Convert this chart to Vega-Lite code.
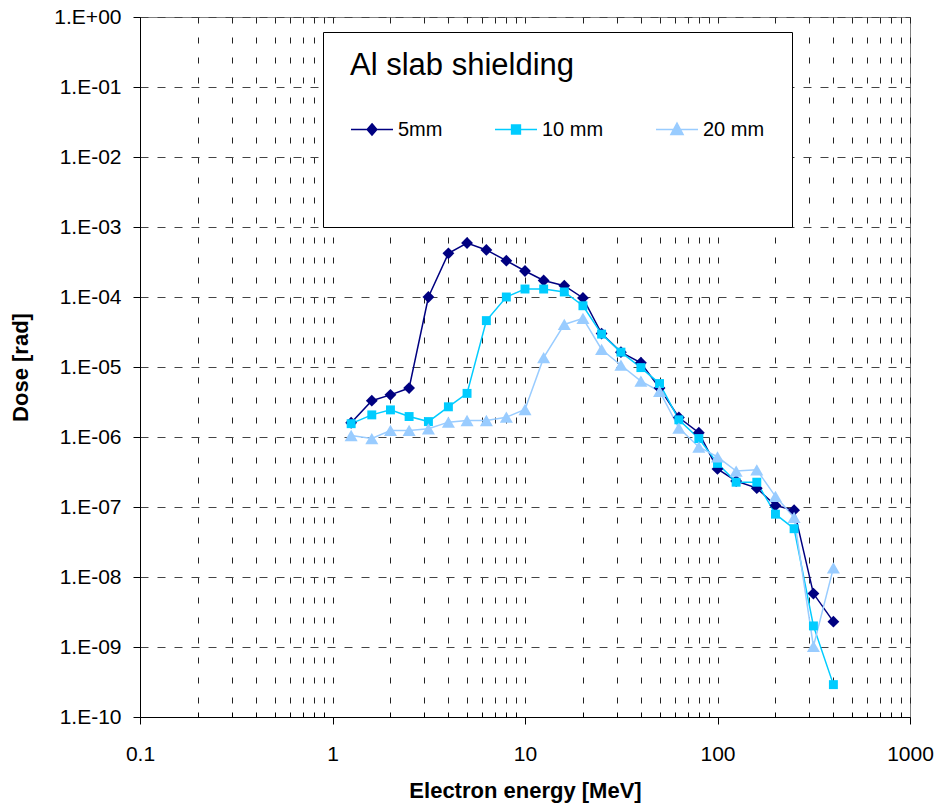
{
  "$schema": "https://vega.github.io/schema/vega-lite/v6.json",
  "width": 770,
  "height": 700,
  "autosize": {"type": "none"},
  "padding": {"left": 140, "top": 17, "right": 26, "bottom": 90},
  "background": "white",
  "config": {
    "view": {"stroke": "#808080", "strokeWidth": 1},
    "font": "Liberation Sans"
  },
  "data": {
    "values": [
      {"energy": 1.25, "dose": 1.6e-6, "series": "5mm"},
      {"energy": 1.6, "dose": 3.3e-6, "series": "5mm"},
      {"energy": 2, "dose": 4.0e-6, "series": "5mm"},
      {"energy": 2.5, "dose": 5.0e-6, "series": "5mm"},
      {"energy": 3.15, "dose": 1.0e-4, "series": "5mm"},
      {"energy": 4, "dose": 4.2e-4, "series": "5mm"},
      {"energy": 5, "dose": 5.9e-4, "series": "5mm"},
      {"energy": 6.3, "dose": 4.7e-4, "series": "5mm"},
      {"energy": 8, "dose": 3.3e-4, "series": "5mm"},
      {"energy": 10, "dose": 2.35e-4, "series": "5mm"},
      {"energy": 12.5, "dose": 1.72e-4, "series": "5mm"},
      {"energy": 16, "dose": 1.45e-4, "series": "5mm"},
      {"energy": 20, "dose": 9.7e-5, "series": "5mm"},
      {"energy": 25, "dose": 3.0e-5, "series": "5mm"},
      {"energy": 31.5, "dose": 1.63e-5, "series": "5mm"},
      {"energy": 40, "dose": 1.15e-5, "series": "5mm"},
      {"energy": 50, "dose": 5.0e-6, "series": "5mm"},
      {"energy": 63, "dose": 1.9e-6, "series": "5mm"},
      {"energy": 80, "dose": 1.15e-6, "series": "5mm"},
      {"energy": 100, "dose": 3.5e-7, "series": "5mm"},
      {"energy": 125, "dose": 2.35e-7, "series": "5mm"},
      {"energy": 160, "dose": 1.86e-7, "series": "5mm"},
      {"energy": 200, "dose": 1.05e-7, "series": "5mm"},
      {"energy": 250, "dose": 9.0e-8, "series": "5mm"},
      {"energy": 315, "dose": 5.8e-9, "series": "5mm"},
      {"energy": 400, "dose": 2.3e-9, "series": "5mm"},
      {"energy": 1.25, "dose": 1.55e-6, "series": "10 mm"},
      {"energy": 1.6, "dose": 2.07e-6, "series": "10 mm"},
      {"energy": 2, "dose": 2.44e-6, "series": "10 mm"},
      {"energy": 2.5, "dose": 1.96e-6, "series": "10 mm"},
      {"energy": 3.15, "dose": 1.66e-6, "series": "10 mm"},
      {"energy": 4, "dose": 2.7e-6, "series": "10 mm"},
      {"energy": 5, "dose": 4.2e-6, "series": "10 mm"},
      {"energy": 6.3, "dose": 4.6e-5, "series": "10 mm"},
      {"energy": 8, "dose": 1.0e-4, "series": "10 mm"},
      {"energy": 10, "dose": 1.3e-4, "series": "10 mm"},
      {"energy": 12.5, "dose": 1.3e-4, "series": "10 mm"},
      {"energy": 16, "dose": 1.18e-4, "series": "10 mm"},
      {"energy": 20, "dose": 7.5e-5, "series": "10 mm"},
      {"energy": 25, "dose": 2.95e-5, "series": "10 mm"},
      {"energy": 31.5, "dose": 1.63e-5, "series": "10 mm"},
      {"energy": 40, "dose": 9.8e-6, "series": "10 mm"},
      {"energy": 50, "dose": 5.8e-6, "series": "10 mm"},
      {"energy": 63, "dose": 1.76e-6, "series": "10 mm"},
      {"energy": 80, "dose": 9.5e-7, "series": "10 mm"},
      {"energy": 100, "dose": 4.2e-7, "series": "10 mm"},
      {"energy": 125, "dose": 2.26e-7, "series": "10 mm"},
      {"energy": 160, "dose": 2.26e-7, "series": "10 mm"},
      {"energy": 200, "dose": 7.9e-8, "series": "10 mm"},
      {"energy": 250, "dose": 4.9e-8, "series": "10 mm"},
      {"energy": 315, "dose": 2.0e-9, "series": "10 mm"},
      {"energy": 400, "dose": 2.9e-10, "series": "10 mm"},
      {"energy": 1.25, "dose": 1.05e-6, "series": "20 mm"},
      {"energy": 1.6, "dose": 9.5e-7, "series": "20 mm"},
      {"energy": 2, "dose": 1.24e-6, "series": "20 mm"},
      {"energy": 2.5, "dose": 1.24e-6, "series": "20 mm"},
      {"energy": 3.15, "dose": 1.31e-6, "series": "20 mm"},
      {"energy": 4, "dose": 1.63e-6, "series": "20 mm"},
      {"energy": 5, "dose": 1.72e-6, "series": "20 mm"},
      {"energy": 6.3, "dose": 1.72e-6, "series": "20 mm"},
      {"energy": 8, "dose": 1.92e-6, "series": "20 mm"},
      {"energy": 10, "dose": 2.47e-6, "series": "20 mm"},
      {"energy": 12.5, "dose": 1.36e-5, "series": "20 mm"},
      {"energy": 16, "dose": 4.05e-5, "series": "20 mm"},
      {"energy": 20, "dose": 4.95e-5, "series": "20 mm"},
      {"energy": 25, "dose": 1.78e-5, "series": "20 mm"},
      {"energy": 31.5, "dose": 1.06e-5, "series": "20 mm"},
      {"energy": 40, "dose": 6.3e-6, "series": "20 mm"},
      {"energy": 50, "dose": 4.5e-6, "series": "20 mm"},
      {"energy": 63, "dose": 1.34e-6, "series": "20 mm"},
      {"energy": 80, "dose": 7.2e-7, "series": "20 mm"},
      {"energy": 100, "dose": 5.2e-7, "series": "20 mm"},
      {"energy": 125, "dose": 3.26e-7, "series": "20 mm"},
      {"energy": 160, "dose": 3.4e-7, "series": "20 mm"},
      {"energy": 200, "dose": 1.42e-7, "series": "20 mm"},
      {"energy": 250, "dose": 7.1e-8, "series": "20 mm"},
      {"energy": 315, "dose": 1.02e-9, "series": "20 mm"},
      {"energy": 400, "dose": 1.35e-8, "series": "20 mm"}
    ]
  },
  "encoding": {
    "x": {
      "field": "energy",
      "type": "quantitative",
      "scale": {"type": "log", "domain": [0.1, 1000], "nice": false},
      "axis": {
        "values": [0.1, 0.2, 0.3, 0.4, 0.5, 0.6, 0.7, 0.8, 0.9, 1, 2, 3, 4, 5, 6, 7, 8, 9, 10, 20, 30, 40, 50, 60, 70, 80, 90, 100, 200, 300, 400, 500, 600, 700, 800, 900, 1000],
        "labelExpr": "abs(log(datum.value)/LN10 - round(log(datum.value)/LN10)) < 0.001 ? '' + datum.value : ''",
        "labelOverlap": false,
        "labelFlush": false,
        "labelFontSize": 21,
        "labelColor": "black",
        "labelPadding": 19,
        "tickSize": {"condition": {"test": "abs(log(datum.value)/LN10 - round(log(datum.value)/LN10)) < 0.001", "value": 7}, "value": -5},
        "tickColor": "black",
        "domainColor": "black",
        "grid": true,
        "gridDash": [6, 14],
        "gridColor": "#222222",
        "title": "Electron energy [MeV]",
        "titleFontSize": 22,
        "titleFontWeight": "bold",
        "titleColor": "black",
        "titlePadding": 16
      }
    },
    "y": {
      "field": "dose",
      "type": "quantitative",
      "scale": {"type": "log", "domain": [1e-10, 1], "nice": false},
      "axis": {
        "values": [1e-10, 1e-9, 1e-8, 1e-7, 1e-6, 1e-5, 1e-4, 1e-3, 1e-2, 1e-1, 1],
        "labelExpr": "'1.E' + (round(log(datum.value)/LN10) >= 0 ? '+' : '-') + (abs(round(log(datum.value)/LN10)) < 10 ? '0' : '') + abs(round(log(datum.value)/LN10))",
        "labelOverlap": false,
        "labelFlush": false,
        "labelFontSize": 21,
        "labelColor": "black",
        "labelPadding": 12,
        "tickSize": 7,
        "tickColor": "black",
        "domainColor": "black",
        "grid": true,
        "gridDash": [8, 9],
        "gridColor": "#444444",
        "title": "Dose [rad]",
        "titleFontSize": 22,
        "titleFontWeight": "bold",
        "titleColor": "black",
        "titlePadding": 21
      }
    },
    "color": {
      "field": "series",
      "type": "nominal",
      "scale": {"domain": ["5mm", "10 mm", "20 mm"], "range": ["#000080", "#00CCFF", "#99CCFF"]},
      "legend": {
        "orient": "none",
        "legendX": 183,
        "legendY": 15,
        "direction": "horizontal",
        "columns": 3,
        "title": "Al slab shielding",
        "titleFontSize": 31,
        "titleFontWeight": "normal",
        "titleColor": "black",
        "titleLimit": 440,
        "titlePadding": -31,
        "padding": 27,
        "strokeColor": "black",
        "fillColor": "white",
        "clipHeight": 141,
        "columnPadding": 51,
        "labelOffset": 4,
        "labelFontSize": 20,
        "labelColor": "black",
        "symbolSize": 1764,
        "symbolStrokeWidth": 1.5,
        "encode": {
          "title": {"update": {"dy": {"value": -8}}},
          "symbols": {
            "update": {
              "shape": {"signal": "datum.value === '5mm' ? 'M-1,0L1,0M0,-0.27L0.23,0L0,0.27L-0.23,0Z' : datum.value === '10 mm' ? 'M-1,0L1,0M-0.21,-0.21L0.21,-0.21L0.21,0.21L-0.21,0.21Z' : 'M-1,0L1,0M0,-0.3L0.29,0.24L-0.29,0.24Z'"},
              "size": {"value": 1764},
              "fill": {"scale": "color", "field": "value"},
              "stroke": {"scale": "color", "field": "value"},
              "strokeWidth": {"value": 1.5},
              "opacity": {"value": 1}
            }
          }
        }
      }
    }
  },
  "layer": [
    {"mark": {"type": "line", "strokeWidth": 1.5}},
    {
      "transform": [{"filter": "datum.series === '5mm'"}],
      "mark": {"type": "point", "shape": "diamond", "size": 140, "filled": true, "opacity": 1, "strokeWidth": 0}
    },
    {
      "transform": [{"filter": "datum.series === '10 mm'"}],
      "mark": {"type": "point", "shape": "square", "size": 80, "filled": true, "opacity": 1, "strokeWidth": 0}
    },
    {
      "transform": [{"filter": "datum.series === '20 mm'"}],
      "mark": {"type": "point", "shape": "triangle-up", "size": 170, "filled": true, "opacity": 1, "strokeWidth": 0}
    }
  ]
}
